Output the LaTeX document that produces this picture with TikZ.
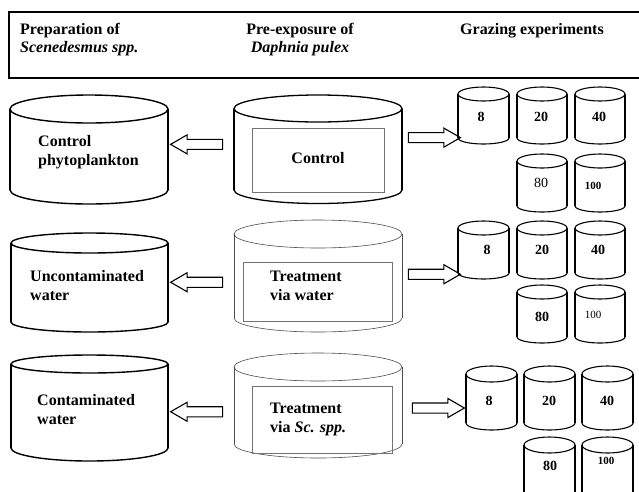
\documentclass[tikz,border=0pt]{standalone}
\usepackage{fontspec}
\setmainfont{Liberation Serif}
\usetikzlibrary{shapes.arrows,calc}
\tikzset{
  bigcyl/.style={line width=1.4pt,draw=black},
  midcylA/.style={line width=1.3pt,draw=black},
  midcylB/.style={line width=0.6pt,draw=black!70},
  smallcyl/.style={line width=1.1pt,draw=black},
  innerbox/.style={draw=black!55,line width=0.9pt,inner sep=0},
  lbl/.style={font=\fontsize{16}{19}\selectfont\bfseries,align=left,inner sep=0},
  hdr/.style={font=\fontsize{16}{18.5}\selectfont\bfseries,inner sep=0},
  num/.style={font=\fontsize{14}{16}\selectfont\bfseries,inner sep=0},
  numr/.style={font=\fontsize{14}{16}\selectfont,inner sep=0},
  numsm/.style={font=\fontsize{11}{13}\selectfont\bfseries,inner sep=0},
  numsmr/.style={font=\fontsize{11}{13}\selectfont,inner sep=0},
  blockarrow/.style={single arrow,draw,line width=1.1pt,inner xsep=0pt,inner ysep=4.5pt,
    single arrow head extend=4.5pt,single arrow tip angle=60,minimum height=52pt}
}
% #1 name, #2 x1, #3 x2, #4 top centre y, #5 bottom centre y, #6 ry top, #7 ry bottom, #8 style
\newcommand\drawcyl[8]{%
  \begin{scope}
    \clip (#2-3,#5) rectangle (#3+3,#5+#7+3);
    \draw[#8] ({(#2+#3)/2},#5) ellipse[x radius={(#3-#2)/2},y radius=#7];
  \end{scope}
  \draw[#8] (#2,#4) -- (#2,#5) (#3,#4) -- (#3,#5);
  \draw[#8] ({(#2+#3)/2},#4) ellipse[x radius={(#3-#2)/2},y radius=#6];
  \path ({(#2+#3)/2},{(#4+#5)/2}) node[inner sep=0,minimum width={(#3-#2)*1pt},minimum height={(#5-#4)*1pt}] (#1) {};
}
\begin{document}
\begin{tikzpicture}[x=1pt,y=-1pt]
\useasboundingbox (0,0) rectangle (639,491);
\clip (0,0) rectangle (639,491);
% header
\draw[line width=1.2pt] (650,12) -- (9,12) -- (9,78) -- (650,78);
\node[hdr,align=left,anchor=north west] (h1) at (20,23) {Preparation of\\\textit{Scenedesmus spp.}};
\node[hdr,align=center,anchor=north] (h2) at (300,23) {Pre-exposure of\\\textit{Daphnia pulex}};
\node[hdr,anchor=north west] (h3) at (460,23) {Grazing experiments};

% left cylinders
\drawcyl{L1}{10}{168}{109}{190}{14}{14}{bigcyl}
\drawcyl{L2}{11}{168}{243}{322}{10}{10}{bigcyl}
\drawcyl{L3}{11}{168}{364}{448}{9}{13}{bigcyl}
\node[lbl,anchor=west] (t1) at (38,152) {Control\\phytoplankton};
\node[lbl,anchor=west] (t2) at (30,286) {Uncontaminated\\water};
\node[lbl,anchor=west] (t3) at (37,410) {Contaminated\\water};

% middle cylinders
\drawcyl{M1}{234}{402}{108.5}{190}{13.5}{13.5}{midcylA}
\drawcyl{M2}{234}{402}{234}{318}{14}{14}{midcylB}
\drawcyl{M3}{234}{402}{367}{444}{14}{14}{midcylB}
\node[innerbox,minimum width=132pt,minimum height=64pt] (b1) at (318,160) {};
\node[innerbox,minimum width=149pt,minimum height=59pt] (b2) at (317.5,291.5) {};
\node[innerbox,minimum width=140pt,minimum height=67pt] (b3) at (322,419.5) {};
\node[lbl] (c1) at ($(b1)+(0,-2)$) {Control};
\node[lbl,anchor=west] (c2) at (270,286) {Treatment\\via water};
\node[lbl,anchor=west] (c3) at (270,419) {Treatment\\via \textit{Sc. spp.}};

% small cylinders row 1
\drawcyl{A1}{458}{509}{94}{138}{7}{6}{smallcyl}
\drawcyl{A2}{517}{567}{94}{138}{7}{6}{smallcyl}
\drawcyl{A3}{575}{625}{94}{138}{7}{6}{smallcyl}
\drawcyl{A4}{517}{567}{161}{206}{7}{6}{smallcyl}
\drawcyl{A5}{575}{625}{161}{206}{7}{6}{smallcyl}
\node[num] at (481,117) {8};
\node[num] at (541,117) {20};
\node[num] at (599,117) {40};
\node[numr] at (541,183) {80};
\node[numsm] at (593,186) {100};

% small cylinders row 2
\drawcyl{B1}{458}{509}{228}{273}{7}{6}{smallcyl}
\drawcyl{B2}{517}{567}{228}{273}{7}{6}{smallcyl}
\drawcyl{B3}{575}{625}{228}{273}{7}{6}{smallcyl}
\drawcyl{B4}{517}{567}{292}{337}{7}{6}{smallcyl}
\drawcyl{B5}{575}{625}{292}{337}{7}{6}{smallcyl}
\node[num] at (487,250) {8};
\node[num] at (542,250) {20};
\node[num] at (598,250) {40};
\node[num] at (542,317) {80};
\node[numsmr] at (593,315) {100};

% small cylinders row 3
\drawcyl{C1}{466}{517}{374}{423}{8}{7}{smallcyl}
\drawcyl{C2}{524}{575}{374}{423}{8}{7}{smallcyl}
\drawcyl{C3}{582}{633}{374}{423}{8}{7}{smallcyl}
\drawcyl{C4}{524}{575}{445}{498}{8}{7}{smallcyl}
\drawcyl{C5}{582}{633}{445}{498}{8}{7}{smallcyl}
\node[num] at (489,401) {8};
\node[num] at (549,401) {20};
\node[num] at (607,401) {40};
\node[num] at (550,466) {80};
\node[numsm] at (606,461) {100};

% arrows
\node[blockarrow,shape border rotate=180] (la1) at ($(L1.east)!0.5!(M1.west)+(0,-5)$) {};
\node[blockarrow,shape border rotate=180] (la2) at ($(L2.east)!0.5!(M2.west)+(0,3)$) {};
\node[blockarrow,shape border rotate=180] (la3) at ($(L3.east)!0.5!(M3.west)+(0,6)$) {};
\node[blockarrow] (ra1) at ($(M1.east)!0.5!(A1.west)+(0,5)$) {};
\node[blockarrow] (ra2) at ($(M2.east)!0.5!(B1.west)+(0,11)$) {};
\node[blockarrow] (ra3) at ($(M3.east)!0.5!(C1.west)+(0,6)$) {};
\end{tikzpicture}
\end{document}
